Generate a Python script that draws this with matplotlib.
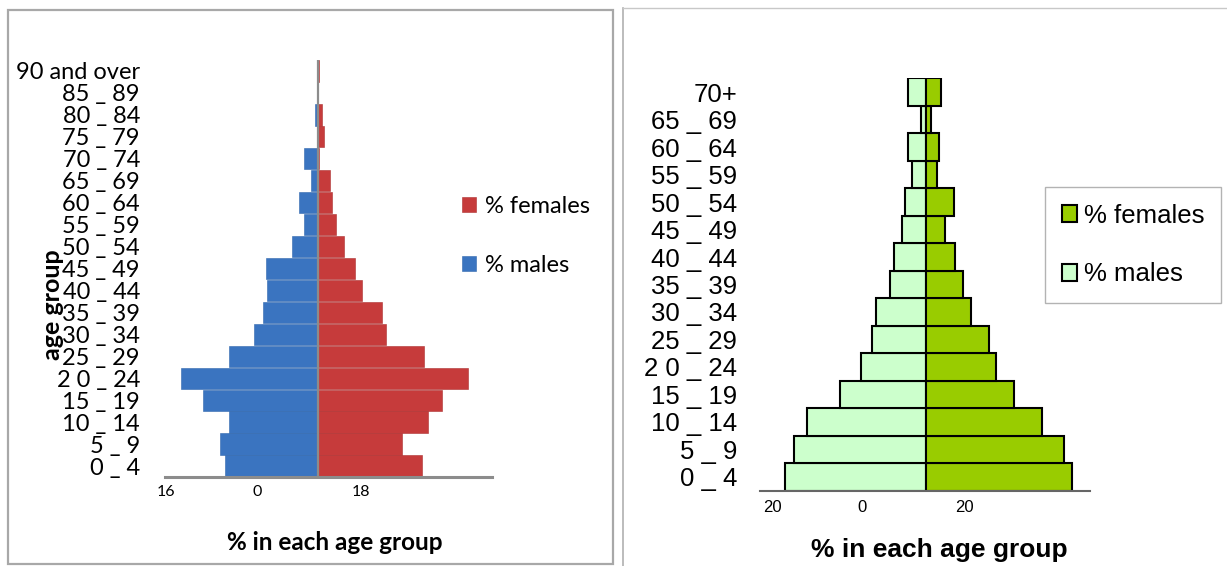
import numpy as np
import matplotlib
matplotlib.use("Agg")
from matplotlib import pyplot as plt
from matplotlib.patches import Rectangle
from matplotlib.lines import Line2D

# --- left pyramid: 19 age bands, bottom to top ---
left_groups = ["0 _ 4", "5 _ 9", "10 _ 14", "15 _ 19", "2 0 _ 24", "25 _ 29", "30 _ 34",
               "35 _ 39", "40 _ 44", "45 _ 49", "50 _ 54", "55 _ 59", "60 _ 64", "65 _ 69",
               "70 _ 74", "75 _ 79", "80 _ 84", "85 _ 89", "90 and over"]
left_males = [9.3, 9.8, 8.9, 11.5, 13.7, 8.9, 6.4, 5.5, 5.1, 5.2,
              2.6, 1.4, 1.9, 0.7, 1.4, 0.1, 0.3, 0.0, 0.15]
left_females = [10.4, 8.4, 11.0, 12.4, 15.0, 10.6, 6.8, 6.4, 4.4, 3.7,
                2.6, 1.8, 1.4, 1.2, 0.05, 0.6, 0.4, 0.0, 0.05]
left_ticks = [-15.2, -6.1, 4.3]
left_ticklabels = ["16", "0", "18"]

# --- right pyramid: 15 age bands, bottom to top ---
right_groups = ["0 _ 4", "5 _ 9", "10 _ 14", "15 _ 19", "2 0 _ 24", "25 _ 29", "30 _ 34",
                "35 _ 39", "40 _ 44", "45 _ 49", "50 _ 54", "55 _ 59", "60 _ 64", "65 _ 69",
                "70+"]
right_males = [14.1, 13.2, 11.9, 8.6, 6.5, 5.4, 5.0, 3.6, 3.2, 2.4, 2.1, 1.4, 1.8, 0.5, 1.8]
right_females = [14.6, 13.8, 11.6, 8.8, 7.0, 6.3, 4.5, 3.7, 2.9, 1.9, 2.8, 1.1, 1.3, 0.5, 1.5]
right_ticks = [-15.4, -6.4, 3.8]
right_ticklabels = ["20", "0", "20"]

W, H = 1227, 566
fig = plt.figure(figsize=(W / 100, H / 100), dpi=100)
fig.patch.set_facecolor("white")

def fx(px):
    return px / W

def fy(py):
    return 1 - py / H

# panel frames
fig.add_artist(Rectangle((fx(8), fy(564)), fx(605), (564 - 10) / H, transform=fig.transFigure,
                         fill=False, edgecolor="#a8a8a8", lw=1.6))
fig.add_artist(Line2D([fx(623), fx(623)], [0, fy(8)], transform=fig.transFigure,
                      color="#b0b0b0", lw=1.2))
fig.add_artist(Line2D([fx(623), 1], [fy(8), fy(8)], transform=fig.transFigure,
                      color="#c8c8c8", lw=1.0))

# ---------------- left chart ----------------
lfont = "Lato"
ax1 = fig.add_axes([fx(165), fy(477), fx(327), (477 - 60) / H])
y1 = np.arange(len(left_groups))
ax1.barh(y1, -np.array(left_males), height=0.97, color="#3a74c0", edgecolor="#3167ad", lw=0.4,
         label="% males")
ax1.barh(y1, left_females, height=0.97, color="#c63b3b", edgecolor="#ad3131", lw=0.4,
         label="% females")
ax1.axvline(0, color="#8c8c8c", lw=1.6, zorder=3)
ax1.set_xlim(-15.3, 17.4)
ax1.set_ylim(-0.5, len(left_groups) - 0.5)
ax1.set_yticks(y1)
ax1.set_yticklabels(left_groups, fontsize=17, family=lfont)
ax1.set_xticks(left_ticks)
ax1.set_xticklabels(left_ticklabels, fontsize=11.5, family=lfont)
ax1.tick_params(axis="y", length=0, pad=18)
ax1.tick_params(axis="x", length=0, pad=6)
for s in ["top", "right", "left"]:
    ax1.spines[s].set_visible(False)
ax1.spines["bottom"].set_color("#8c8c8c")
ax1.spines["bottom"].set_linewidth(2.2)

h1, l1 = ax1.get_legend_handles_labels()
fig.legend([h1[1], h1[0]], [l1[1], l1[0]], loc="upper left",
           bbox_to_anchor=(fx(441), fy(175)), frameon=False,
           prop={"family": lfont, "size": 17}, handlelength=0.6, handleheight=0.6,
           handletextpad=0.35, labelspacing=1.6)

fig.text(fx(52), fy(305), "age group", rotation=90, ha="center", va="center",
         fontsize=18, fontweight="bold", family=lfont)
fig.text(fx(335), fy(543), "% in each age group", ha="center", va="center",
         fontsize=17.5, fontweight="bold", family=lfont)

# ---------------- right chart ----------------
rfont = "Liberation Sans"
ax2 = fig.add_axes([fx(760), fy(490.7), fx(330), (490.7 - 78.3) / H])
y2 = np.arange(len(right_groups))
ax2.barh(y2, -np.array(right_males), height=1.0, color="#ccffcc", edgecolor="black", lw=1.5,
         label="% males")
ax2.barh(y2, right_females, height=1.0, color="#99cc00", edgecolor="black", lw=1.5,
         label="% females")
ax2.set_xlim(-16.6, 16.4)
ax2.set_ylim(-0.5, len(right_groups) - 0.5)
ax2.set_yticks(y2)
ax2.set_yticklabels(right_groups, fontsize=18.5, family=rfont)
ax2.set_xticks(right_ticks)
ax2.set_xticklabels(right_ticklabels, fontsize=12, family=rfont)
ax2.tick_params(axis="y", length=0, pad=16.5)
ax2.tick_params(axis="x", length=0, pad=7)
for s in ["top", "right", "left"]:
    ax2.spines[s].set_visible(False)
ax2.spines["bottom"].set_color("#666666")
ax2.spines["bottom"].set_linewidth(1.5)

h2, l2 = ax2.get_legend_handles_labels()
leg2 = fig.legend([h2[1], h2[0]], [l2[1], l2[0]], loc="upper left",
                  bbox_to_anchor=(fx(1045), fy(187)), frameon=True, fancybox=False,
                  edgecolor="#a0a0a0", prop={"family": rfont, "size": 18.5},
                  handlelength=0.6, handleheight=0.65, handletextpad=0.25,
                  labelspacing=1.35, borderpad=0.65, borderaxespad=0)
leg2.get_frame().set_linewidth(1.0)

fig.text(fx(939), fy(550), "% in each age group", ha="center", va="center",
         fontsize=19, fontweight="bold", family=rfont)

fig.savefig("out.png", dpi=100)
